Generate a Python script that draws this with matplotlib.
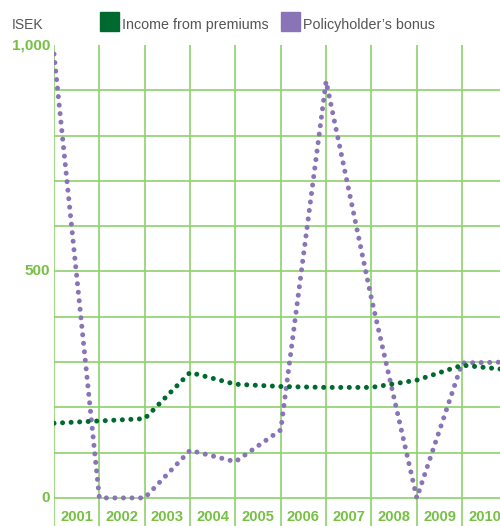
import matplotlib
matplotlib.use("Agg")
import matplotlib.pyplot as plt
from matplotlib.patches import Rectangle

plt.rcParams['font.family'] = ['Liberation Sans', 'DejaVu Sans']

# Data (MSEK), one value per gridline position
years = ['2001', '2002', '2003', '2004', '2005', '2006', '2007', '2008', '2009', '2010']
premiums = [165, 170, 175, 277, 251, 246, 244, 244, 260, 293, 283]
bonus = [980, 0, 0, 105, 80, 150, 920, 440, 0, 298, 300]
y_ticks = [0, 500, 1000]
y_tick_labels = ['0', '500', '1,000']

GRID = '#8fd16b'
LABEL_GREEN = '#76c043'
TEXT_GRAY = '#555555'
C_PREM = '#006a2e'
C_BONUS = '#8a74b8'

W, H = 500, 526
fig = plt.figure(figsize=(W / 100, H / 100), dpi=100)

left_px, top_px = 54, 45
step_px = 45.35
ax = fig.add_axes([left_px / W, 0, 1 - left_px / W, (H - top_px) / H])
ax.set_xlim(0, (W - left_px) / step_px)
ax.set_ylim(-62, 1000)
for s in ax.spines.values():
    s.set_visible(False)
ax.set_xticks([])
ax.set_yticks([])

# grid
for v in range(0, 1000, 100):
    ax.axhline(v, color=GRID, lw=1.2, zorder=1)
for i in range(len(years) + 1):
    ax.axvline(i, color=GRID, lw=1.2, zorder=1)

xs = list(range(len(bonus)))
dot = dict(lw=3.6, linestyle=(0, (0.01, 1.7)), dash_capstyle='round', solid_capstyle='round')
ax.plot(xs, premiums, color=C_PREM, zorder=3, **dot)
ax.plot(xs, bonus, color=C_BONUS, zorder=2, **dot)

# year labels inside the bottom band
for i, yr in enumerate(years):
    ax.text(i + 0.5, -42, yr, ha='center', va='center', fontsize=10.6,
            fontweight='bold', color=LABEL_GREEN, clip_on=False)

# y tick labels
for v, lab in zip(y_ticks, y_tick_labels):
    ax.text(-0.09, v, lab, ha='right', va='center', fontsize=11,
            fontweight='bold', color=LABEL_GREEN, clip_on=False)

# unit and legend
fig.text(12 / W, 1 - 25 / H, 'ISEK', ha='left', va='center', fontsize=10, color=TEXT_GRAY)
for x0, col, lab in [(100, C_PREM, 'Income from premiums'),
                     (281, C_BONUS, "Policyholder’s bonus")]:
    fig.patches.append(Rectangle((x0 / W, 1 - 31 / H), 19 / W, 19 / H,
                                 transform=fig.transFigure, color=col, figure=fig))
    fig.text((x0 + 22) / W, 1 - 25 / H, lab, ha='left', va='center',
             fontsize=10.3, color=TEXT_GRAY)

fig.savefig('out.png', dpi=100)
